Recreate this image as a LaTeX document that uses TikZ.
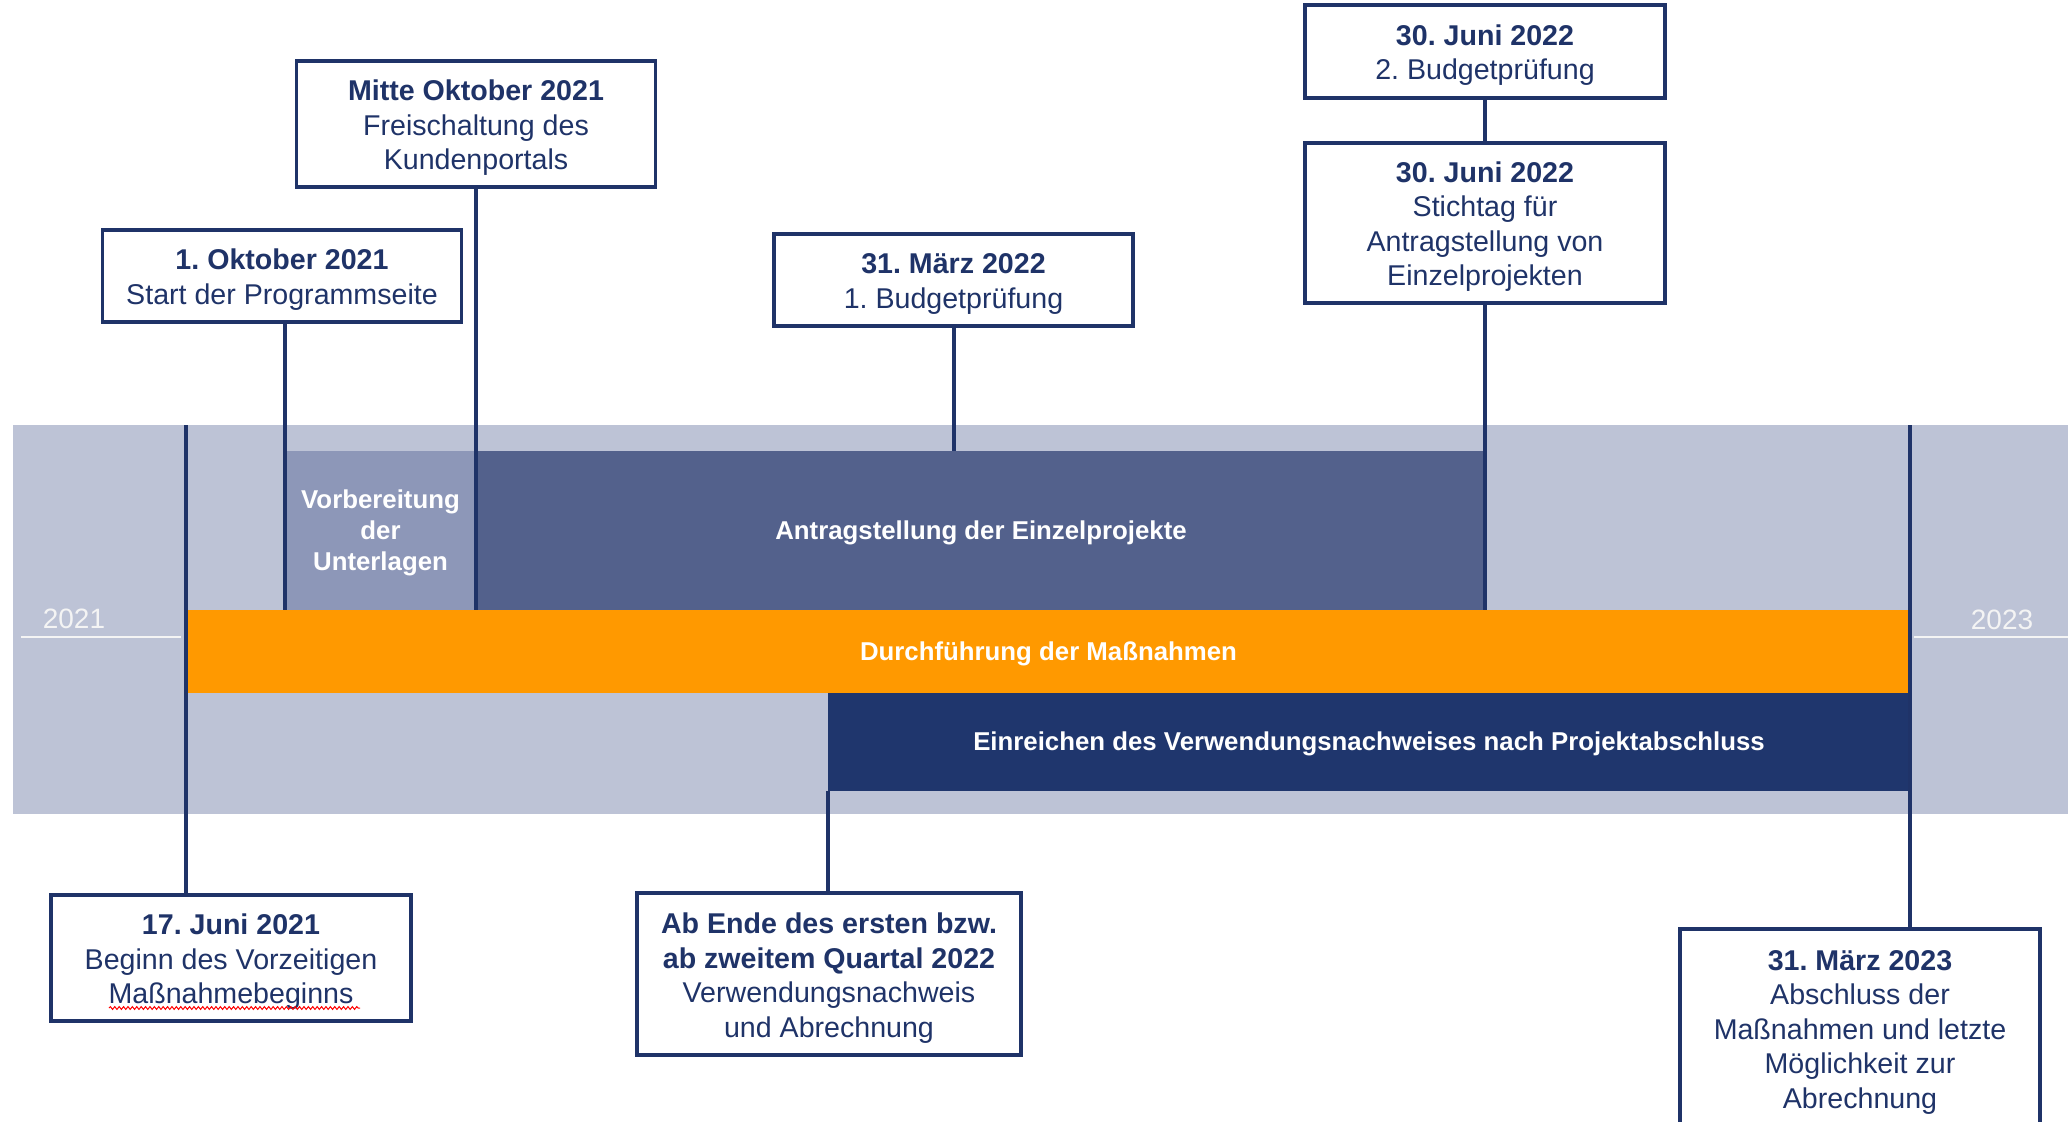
\documentclass[tikz,border=0pt]{standalone}
\usepackage{fontspec}
\setmainfont{Liberation Sans}
\usetikzlibrary{decorations.pathmorphing}
\definecolor{bandgray}{HTML}{BDC3D6}
\definecolor{antragblue}{HTML}{53618C}
\definecolor{vorbblue}{HTML}{8D97B8}
\definecolor{orangebar}{HTML}{FF9900}
\definecolor{navybar}{HTML}{1F366D}
\definecolor{navyline}{HTML}{1F3368}
\definecolor{yeartext}{HTML}{F4F4F4}
\newcommand\mybxfont{\fontsize{14.3}{17.25}\selectfont\frenchspacing}
\newcommand\mybarfont{\fontsize{12.9}{15.5}\selectfont\bfseries\frenchspacing}
\newcommand\myyearfont{\fontsize{14}{16}\selectfont}
\newcommand\myboxstrut{\rule{0pt}{14.2pt}}
\newcommand\mybarstrut{\rule{0pt}{11.3pt}}
\begin{document}
\begin{tikzpicture}[x=0.5pt,y=-0.5pt,
  box/.style={draw=navyline, line width=1.8pt, fill=white, align=center, text=navyline, font=\mybxfont, inner sep=0pt},
  bar/.style={inner sep=0pt, outer sep=0pt, text=white, font=\mybarfont, align=center},
  conn/.style={draw=navyline, line width=2pt},
  yearline/.style={draw=yeartext, line width=1.2pt},
  yearlabel/.style={text=yeartext, font=\myyearfont, inner sep=0pt}]
\useasboundingbox (0,0) rectangle (2068,1121);
\clip (0,0) rectangle (2068,1121);
% background band
\node[bar, fill=bandgray, minimum width=1027.5pt, minimum height=194.5pt] (band) at (1040.5,619.5) {};
% bars
\node[bar, fill=vorbblue, minimum width=95.5pt, minimum height=79.5pt] (vorb) at (380.5,530.5) {\mybarstrut Vorbereitung\\der\\Unterlagen};
\node[bar, fill=antragblue, minimum width=505pt, minimum height=79.5pt] (antrag) at (981,530.5) {\mybarstrut Antragstellung der Einzelprojekte};
\node[bar, fill=orangebar, minimum width=860.5pt, minimum height=41.5pt] (orange) at (1048.5,651.5) {\mybarstrut Durchführung der Maßnahmen};
\node[bar, fill=navybar, minimum width=541pt, minimum height=49pt] (navy) at (1369,741.5) {\mybarstrut Einreichen des Verwendungsnachweises nach Projektabschluss};
% years
\node[yearlabel] (y21) at (74,619) {2021};
\node[yearlabel] (y23) at (2002,620) {2023};
\coordinate (y21a) at (21,637);
\coordinate (y21b) at (181,637);
\coordinate (y23a) at (1914,637);
\coordinate (y23b) at (2068,637);
\draw[yearline] (y21a) -- (y21b);
\draw[yearline] (y23a) -- (y23b);
% boxes
\node[box, minimum width=179.5pt, minimum height=63pt] (mitte) at (476,124) {\myboxstrut\textbf{Mitte Oktober 2021}\\Freischaltung des\\Kundenportals};
\node[box, minimum width=179.5pt, minimum height=46pt] (okt1) at (282,276) {\myboxstrut\textbf{1. Oktober 2021}\\Start der Programmseite};
\node[box, minimum width=179.5pt, minimum height=46pt] (mar22) at (953.5,280) {\myboxstrut\textbf{31. März 2022}\\1. Budgetprüfung};
\node[box, minimum width=180pt, minimum height=46.5pt] (jun22a) at (1485,51.5) {\myboxstrut\textbf{30. Juni 2022}\\2. Budgetprüfung};
\node[box, minimum width=180pt, minimum height=80pt] (jun22b) at (1485,223) {\myboxstrut\textbf{30. Juni 2022}\\Stichtag für\\Antragstellung von\\Einzelprojekten};
\node[box, minimum width=180pt, minimum height=63pt] (jun21) at (231,958) {\myboxstrut\textbf{17. Juni 2021}\\Beginn des Vorzeitigen\\Maßnahmebeginns};
\node[box, minimum width=192pt, minimum height=81pt] (abende) at (829,974) {\myboxstrut\textbf{Ab Ende des ersten bzw.}\\\textbf{ab zweitem Quartal 2022}\\Verwendungsnachweis\\und Abrechnung};
\node[box, minimum width=180pt, minimum height=99pt] (mar23) at (1860,1028) {\myboxstrut\textbf{31. März 2023}\\Abschluss der\\Maßnahmen und letzte\\Möglichkeit zur\\Abrechnung};
% spell-check underline
\coordinate (wa) at (109,1008);
\coordinate (wb) at (360,1008);
\draw[red, line width=0.5pt, decorate, decoration={snake, amplitude=0.7pt, segment length=2.2pt}] (wa) -- (wb);
% connectors
\coordinate (t1) at (186,425);
\coordinate (t7) at (1910,425);
\draw[conn] (t1) -- (t1 |- jun21.north);
\draw[conn] (t7) -- (t7 |- mar23.north);
\draw[conn] (okt1.south -| vorb.west) -- (vorb.south west);
\draw[conn] (mitte.south -| antrag.west) -- (antrag.south west);
\draw[conn] (mar22.south) -- (mar22.south |- antrag.north);
\draw[conn] (jun22a.south) -- (jun22b.north);
\draw[conn] (jun22b.south) -- (jun22b.south |- antrag.south);
\draw[conn] (navy.south west) -- (navy.south west |- abende.north);
\end{tikzpicture}
\end{document}
